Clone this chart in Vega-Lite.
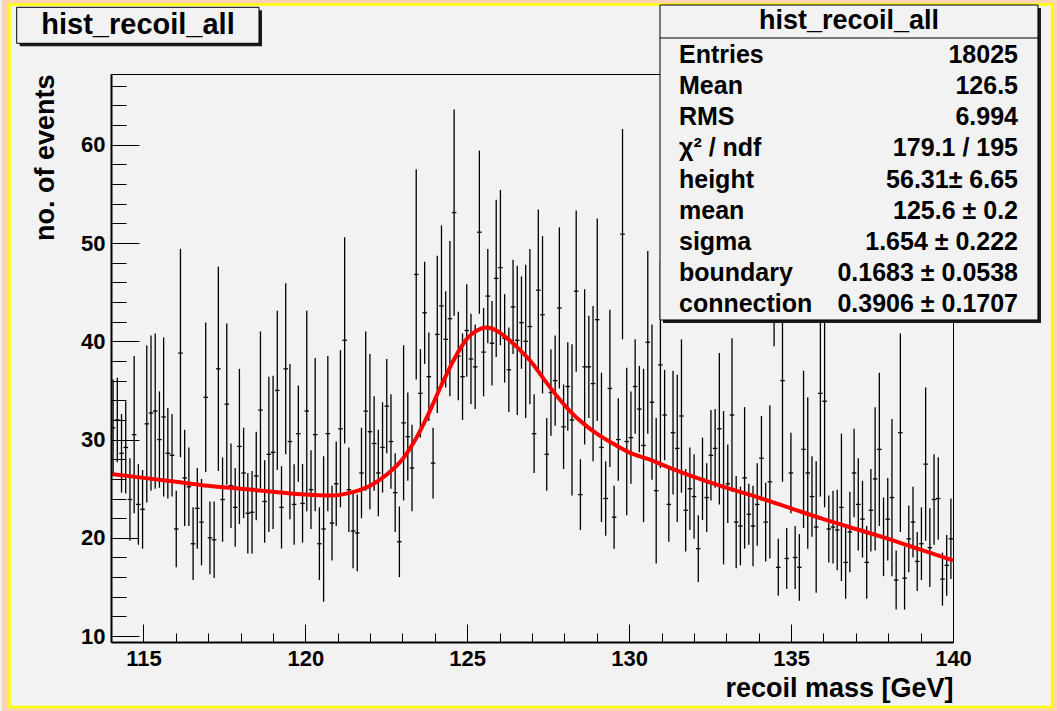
{
  "$schema": "https://vega.github.io/schema/vega-lite/v6.json",
  "width": 842,
  "height": 568,
  "autosize": {"type": "none"},
  "padding": {"left": 111, "top": 74, "right": 104, "bottom": 69},
  "background": "#f2f2f2",
  "config": {
    "view": {"stroke": "#000", "strokeWidth": 1},
    "font": "Liberation Sans"
  },
  "datasets": {
    "bins": [
      {"m":114.065,"n":31.2,"e":4.9},{"m":114.195,"n":32.0,"e":4.3},{"m":114.325,"n":28.6,"e":4.0},{"m":114.455,"n":29.2,"e":4.7},{"m":114.585,"n":23.9,"e":4.2},
      {"m":114.715,"n":30.5,"e":8.0},{"m":114.845,"n":23.4,"e":4.1},{"m":114.975,"n":22.9,"e":4.0},{"m":115.105,"n":31.6,"e":8.0},{"m":115.235,"n":32.7,"e":7.9},
      {"m":115.365,"n":32.9,"e":7.9},{"m":115.495,"n":30.0,"e":4.9},{"m":115.625,"n":32.3,"e":8.1},{"m":115.755,"n":28.6,"e":4.6},{"m":115.885,"n":28.4,"e":4.2},
      {"m":116.015,"n":20.9,"e":3.9},{"m":116.145,"n":38.8,"e":10.6},{"m":116.275,"n":26.1,"e":4.9},{"m":116.405,"n":25.2,"e":4.0},{"m":116.535,"n":19.4,"e":3.7},
      {"m":116.665,"n":23.0,"e":4.1},{"m":116.795,"n":21.6,"e":4.4},{"m":116.925,"n":34.3,"e":7.6},{"m":117.055,"n":20.0,"e":3.7},{"m":117.185,"n":19.8,"e":3.9},
      {"m":117.315,"n":37.2,"e":10.4},{"m":117.445,"n":23.9,"e":4.3},{"m":117.575,"n":33.6,"e":8.2},{"m":117.705,"n":25.3,"e":4.3},{"m":117.835,"n":23.1,"e":4.0},
      {"m":117.965,"n":29.3,"e":7.9},{"m":118.095,"n":26.6,"e":4.6},{"m":118.225,"n":22.5,"e":4.1},{"m":118.355,"n":22.6,"e":4.2},{"m":118.485,"n":26.3,"e":4.5},
      {"m":118.615,"n":33.0,"e":8.0},{"m":118.745,"n":23.7,"e":4.2},{"m":118.875,"n":28.5,"e":7.9},{"m":119.005,"n":28.7,"e":7.8},{"m":119.135,"n":35.0,"e":8.1},
      {"m":119.265,"n":23.1,"e":4.2},{"m":119.395,"n":37.2,"e":8.7},{"m":119.525,"n":29.8,"e":7.9},{"m":119.655,"n":23.4,"e":4.1},{"m":119.785,"n":30.6,"e":4.9},
      {"m":119.915,"n":23.5,"e":4.0},{"m":120.045,"n":32.9,"e":10.2},{"m":120.175,"n":24.9,"e":4.0},{"m":120.305,"n":30.5,"e":7.8},{"m":120.435,"n":19.4,"e":3.7},
      {"m":120.565,"n":20.9,"e":7.4},{"m":120.695,"n":30.6,"e":7.9},{"m":120.825,"n":21.5,"e":3.8},{"m":120.955,"n":25.5,"e":4.3},{"m":121.085,"n":31.1,"e":8.0},
      {"m":121.215,"n":40.1,"e":10.5},{"m":121.345,"n":24.9,"e":4.3},{"m":121.475,"n":20.7,"e":3.8},{"m":121.605,"n":20.5,"e":3.9},{"m":121.735,"n":26.6,"e":4.6},
      {"m":121.865,"n":32.9,"e":8.1},{"m":121.995,"n":30.8,"e":7.9},{"m":122.125,"n":29.6,"e":4.8},{"m":122.255,"n":26.6,"e":4.4},{"m":122.385,"n":29.2,"e":4.6},
      {"m":122.515,"n":33.4,"e":4.8},{"m":122.645,"n":29.8,"e":4.8},{"m":122.775,"n":24.6,"e":4.0},{"m":122.905,"n":19.6,"e":3.6},{"m":123.035,"n":31.7,"e":7.9},
      {"m":123.165,"n":30.3,"e":4.5},{"m":123.295,"n":27.1,"e":4.4},{"m":123.425,"n":46.8,"e":10.7},{"m":123.555,"n":34.7,"e":4.5},{"m":123.685,"n":42.9,"e":5.2},
      {"m":123.815,"n":36.4,"e":4.5},{"m":123.945,"n":27.6,"e":3.6},{"m":124.075,"n":40.7,"e":8.0},{"m":124.205,"n":43.6,"e":8.2},{"m":124.335,"n":40.2,"e":4.9},
      {"m":124.465,"n":42.3,"e":7.9},{"m":124.595,"n":53.1,"e":10.5},{"m":124.725,"n":38.5,"e":4.5},{"m":124.855,"n":36.4,"e":4.4},{"m":124.985,"n":41.1,"e":4.7},
      {"m":125.115,"n":38.2,"e":4.6},{"m":125.245,"n":37.4,"e":4.3},{"m":125.375,"n":51.1,"e":8.3},{"m":125.505,"n":38.9,"e":4.5},{"m":125.635,"n":44.6,"e":4.8},
      {"m":125.765,"n":39.8,"e":4.3},{"m":125.895,"n":46.4,"e":8.0},{"m":126.025,"n":47.5,"e":7.9},{"m":126.155,"n":40.3,"e":4.5},{"m":126.285,"n":37.1,"e":4.3},
      {"m":126.415,"n":43.5,"e":4.8},{"m":126.545,"n":40.1,"e":7.6},{"m":126.675,"n":41.9,"e":4.7},{"m":126.805,"n":40.0,"e":7.8},{"m":126.935,"n":41.5,"e":7.9},
      {"m":127.065,"n":30.6,"e":4.0},{"m":127.195,"n":45.2,"e":8.2},{"m":127.325,"n":42.7,"e":8.0},{"m":127.455,"n":28.5,"e":3.7},{"m":127.585,"n":34.8,"e":4.4},
      {"m":127.715,"n":36.0,"e":4.6},{"m":127.845,"n":43.4,"e":8.2},{"m":127.975,"n":31.3,"e":4.3},{"m":128.105,"n":35.4,"e":4.5},{"m":128.235,"n":32.0,"e":7.7},
      {"m":128.365,"n":45.1,"e":8.2},{"m":128.495,"n":24.4,"e":3.6},{"m":128.625,"n":37.4,"e":7.9},{"m":128.755,"n":37.4,"e":5.2},{"m":128.885,"n":35.7,"e":7.9},
      {"m":129.015,"n":42.2,"e":10.3},{"m":129.145,"n":29.2,"e":7.6},{"m":129.275,"n":24.0,"e":3.8},{"m":129.405,"n":35.2,"e":8.0},{"m":129.535,"n":22.1,"e":3.2},
      {"m":129.665,"n":30.0,"e":4.2},{"m":129.795,"n":50.9,"e":10.7},{"m":129.925,"n":29.8,"e":7.5},{"m":130.055,"n":30.2,"e":4.7},{"m":130.185,"n":35.4,"e":4.8},
      {"m":130.315,"n":33.1,"e":4.4},{"m":130.445,"n":29.4,"e":7.8},{"m":130.575,"n":39.9,"e":9.3},{"m":130.705,"n":33.8,"e":7.9},{"m":130.835,"n":24.8,"e":7.4},
      {"m":130.965,"n":37.6,"e":10.5},{"m":131.095,"n":32.5,"e":4.6},{"m":131.225,"n":23.4,"e":3.8},{"m":131.355,"n":30.7,"e":6.3},{"m":131.485,"n":29.1,"e":7.5},
      {"m":131.615,"n":32.4,"e":7.8},{"m":131.745,"n":22.8,"e":4.2},{"m":131.875,"n":25.0,"e":4.2},{"m":132.005,"n":24.2,"e":4.3},{"m":132.135,"n":18.9,"e":3.4},
      {"m":132.265,"n":26.0,"e":4.2},{"m":132.395,"n":24.1,"e":3.5},{"m":132.525,"n":28.4,"e":4.6},{"m":132.655,"n":29.1,"e":4.0},{"m":132.785,"n":31.1,"e":7.7},
      {"m":132.915,"n":25.1,"e":7.8},{"m":133.045,"n":25.5,"e":4.0},{"m":133.175,"n":32.5,"e":7.8},{"m":133.305,"n":21.6,"e":4.7},{"m":133.435,"n":21.2,"e":4.0},
      {"m":133.565,"n":26.1,"e":7.2},{"m":133.695,"n":22.4,"e":3.1},{"m":133.825,"n":21.2,"e":4.1},{"m":133.955,"n":23.4,"e":4.2},{"m":134.085,"n":28.1,"e":4.3},
      {"m":134.215,"n":21.6,"e":4.0},{"m":134.345,"n":25.7,"e":7.8},{"m":134.475,"n":50.0,"e":10.5},{"m":134.605,"n":17.0,"e":2.9},{"m":134.735,"n":36.0,"e":10.3},
      {"m":134.865,"n":17.9,"e":3.1},{"m":134.995,"n":26.6,"e":4.1},{"m":135.125,"n":18.0,"e":3.2},{"m":135.255,"n":17.0,"e":3.4},{"m":135.385,"n":29.0,"e":8.0},
      {"m":135.515,"n":26.6,"e":7.7},{"m":135.645,"n":24.2,"e":4.1},{"m":135.775,"n":21.1,"e":6.7},{"m":135.905,"n":34.7,"e":10.5},{"m":136.035,"n":33.9,"e":10.8},
      {"m":136.165,"n":20.9,"e":3.4},{"m":136.295,"n":21.1,"e":3.7},{"m":136.425,"n":20.8,"e":4.1},{"m":136.555,"n":23.1,"e":7.5},{"m":136.685,"n":17.5,"e":3.7},
      {"m":136.815,"n":20.6,"e":4.1},{"m":136.945,"n":26.6,"e":4.5},{"m":137.075,"n":23.4,"e":4.7},{"m":137.205,"n":21.9,"e":3.9},{"m":137.335,"n":17.5,"e":3.7},
      {"m":137.465,"n":22.8,"e":4.2},{"m":137.595,"n":26.0,"e":7.3},{"m":137.725,"n":29.0,"e":7.8},{"m":137.855,"n":20.1,"e":4.0},{"m":137.985,"n":21.9,"e":4.2},
      {"m":138.115,"n":24.1,"e":8.0},{"m":138.245,"n":15.7,"e":3.0},{"m":138.375,"n":30.7,"e":10.1},{"m":138.505,"n":15.9,"e":3.2},{"m":138.635,"n":19.9,"e":3.4},
      {"m":138.765,"n":21.6,"e":3.6},{"m":138.895,"n":17.6,"e":3.0},{"m":139.025,"n":19.4,"e":3.7},{"m":139.155,"n":27.5,"e":7.8},{"m":139.285,"n":19.0,"e":4.0},
      {"m":139.415,"n":23.9,"e":4.6},{"m":139.545,"n":24.0,"e":4.2},{"m":139.675,"n":15.8,"e":2.7},{"m":139.805,"n":17.2,"e":3.1},{"m":139.935,"n":19.9,"e":4.1}
    ],
    "fit": [
      {"m":114.0,"f":26.5},{"m":115.0,"f":26.1},{"m":116.0,"f":25.7},{"m":117.0,"f":25.3},{"m":118.0,"f":25.0},
      {"m":119.0,"f":24.7},{"m":120.0,"f":24.4},{"m":120.8,"f":24.3},{"m":121.4,"f":24.6},{"m":122.0,"f":25.3},
      {"m":122.5,"f":26.4},{"m":123.0,"f":28.0},{"m":123.4,"f":30.0},{"m":123.8,"f":32.6},{"m":124.2,"f":35.5},
      {"m":124.6,"f":38.2},{"m":125.0,"f":40.3},{"m":125.3,"f":41.1},{"m":125.6,"f":41.4},{"m":125.9,"f":41.1},
      {"m":126.2,"f":40.4},{"m":126.6,"f":39.2},{"m":127.0,"f":37.8},{"m":127.4,"f":36.0},{"m":127.8,"f":34.3},
      {"m":128.2,"f":32.8},{"m":128.6,"f":31.6},{"m":129.0,"f":30.6},{"m":129.5,"f":29.6},{"m":130.0,"f":28.7},
      {"m":130.6,"f":28.0},{"m":131.2,"f":27.2},{"m":132.0,"f":26.2},{"m":133.0,"f":25.1},{"m":134.0,"f":24.1},
      {"m":135.0,"f":23.0},{"m":136.0,"f":21.9},{"m":137.0,"f":20.9},{"m":138.0,"f":19.9},{"m":139.0,"f":18.8},
      {"m":140.0,"f":17.7}
    ],
    "stats": [
      {"i":0,"k":"Entries","v":"18025"},
      {"i":1,"k":"Mean","v":"126.5"},
      {"i":2,"k":"RMS","v":"6.994"},
      {"i":3,"k":"χ² / ndf","v":"179.1 / 195"},
      {"i":4,"k":"height","v":"56.31± 6.65"},
      {"i":5,"k":"mean","v":"125.6 ± 0.2"},
      {"i":6,"k":"sigma","v":"1.654 ± 0.222"},
      {"i":7,"k":"boundary","v":"0.1683 ± 0.0538"},
      {"i":8,"k":"connection","v":"0.3906 ± 0.1707"}
    ]
  },
  "layer": [
    {
      "layer": [
        {
          "data": {"values": [{}]},
          "mark": {"type": "rect", "fill": null, "stroke": "#fcd4b4", "strokeWidth": 8},
          "encoding": {
            "x": {"datum": 110.75, "type": "quantitative", "axis": null},
            "x2": {"datum": 143.21},
            "y": {"datum": 74.73, "type": "quantitative", "axis": null},
            "y2": {"datum": 2.38}
          }
        },
        {
          "data": {"values": [{}]},
          "mark": {"type": "rect", "fill": null, "stroke": "#ffff00", "strokeWidth": 2.5},
          "encoding": {
            "x": {"datum": 110.866, "type": "quantitative", "axis": null},
            "x2": {"datum": 143.057},
            "y": {"datum": 74.27, "type": "quantitative", "axis": null},
            "y2": {"datum": 2.79}
          }
        },
        {
          "data": {"name": "bins"},
          "mark": {"type": "errorbar", "ticks": false, "rule": {"color": "#000", "strokeWidth": 1.3}},
          "encoding": {
            "x": {
              "field": "m", "type": "quantitative",
              "scale": {"domain": [114, 140], "nice": false, "zero": false},
              "axis": {
                "orient": "bottom",
                "values": [115, 120, 125, 130, 135, 140],
                "ticks": false,
                "grid": true, "gridColor": "#000", "gridOpacity": 1, "gridWidth": 1, "gridDash": [0, 550, 18, 3000],
                "domainColor": "#000", "domainWidth": 2,
                "labelFont": "Liberation Sans", "labelFontWeight": "bold", "labelFontSize": 22, "labelColor": "#000",
                "labelPadding": 6, "labelFlush": false, "labelOverlap": false,
                "title": "recoil mass [GeV]",
                "titleFont": "Liberation Sans", "titleFontWeight": "bold", "titleFontSize": 27, "titleColor": "#000",
                "titleAnchor": "end", "titlePadding": 6,
                "zindex": 1
              }
            },
            "y": {
              "field": "n", "type": "quantitative",
              "scale": {"domain": [9.4, 67.2], "nice": false, "zero": false},
              "axis": {
                "orient": "left",
                "values": [10, 20, 30, 40, 50, 60],
                "ticks": false,
                "grid": true, "gridColor": "#000", "gridOpacity": 1, "gridWidth": 1, "gridDash": [28, 3000],
                "domainColor": "#000", "domainWidth": 2,
                "labelFont": "Liberation Sans", "labelFontWeight": "bold", "labelFontSize": 22, "labelColor": "#000",
                "labelPadding": 6, "labelFlush": false, "labelOverlap": false,
                "title": "no. of events",
                "titleFont": "Liberation Sans", "titleFontWeight": "bold", "titleFontSize": 27, "titleColor": "#000",
                "titleAnchor": "end", "titlePadding": 21,
                "zindex": 1
              }
            },
            "yError": {"field": "e"}
          }
        },
        {
          "data": {"name": "bins"},
          "mark": {"type": "tick", "orient": "horizontal", "size": 4.5, "thickness": 1.3, "color": "#000", "opacity": 1},
          "encoding": {
            "x": {
              "field": "m", "type": "quantitative",
              "axis": {
                "orient": "top",
                "values": [115,116,117,118,119,120,121,122,123,124,125,126,127,128,129,130,131,132,133,134,135,136,137,138,139,140],
                "labels": false, "ticks": false, "domain": false, "title": null,
                "grid": true, "gridColor": "#000", "gridOpacity": 1, "gridWidth": 1, "gridDash": [9, 3000],
                "zindex": 1
              }
            },
            "y": {
              "field": "n", "type": "quantitative",
              "axis": {
                "orient": "right",
                "values": [10,12,14,16,18,20,22,24,26,28,30,32,34,36,38,40,42,44,46,48,50,52,54,56,58,60,62,64,66],
                "labels": false, "ticks": false, "domain": false, "title": null,
                "grid": true, "gridColor": "#000", "gridOpacity": 1, "gridWidth": 1, "gridDash": [0, 827, 15, 3000],
                "zindex": 1
              }
            }
          }
        },
        {
          "data": {"name": "fit"},
          "mark": {"type": "line", "color": "#ff0000", "strokeWidth": 4, "interpolate": "monotone"},
          "encoding": {
            "x": {"field": "m", "type": "quantitative", "axis": null},
            "y": {"field": "f", "type": "quantitative", "axis": null}
          }
        },
        {
          "data": {"values": [{}]},
          "mark": {"type": "rect", "fill": "#1a1a1a"},
          "encoding": {
            "x": {"datum": 111.181, "type": "quantitative", "axis": null},
            "x2": {"datum": 118.663},
            "y": {"datum": 73.682, "type": "quantitative", "axis": null},
            "y2": {"datum": 70.018}
          }
        },
        {
          "data": {"values": [{}]},
          "mark": {"type": "rect", "fill": "#f2f2f2", "stroke": "#000", "strokeWidth": 1},
          "encoding": {
            "x": {"datum": 111.088, "type": "quantitative", "axis": null},
            "x2": {"datum": 118.570},
            "y": {"datum": 73.987, "type": "quantitative", "axis": null},
            "y2": {"datum": 70.323}
          }
        },
        {
          "data": {"values": [{"t": "hist_recoil_all"}]},
          "mark": {"type": "text", "align": "center", "baseline": "middle", "font": "Liberation Sans", "fontWeight": "bold", "fontSize": 29, "color": "#000"},
          "encoding": {
            "x": {"datum": 114.834, "type": "quantitative", "axis": null},
            "y": {"datum": 72.19, "type": "quantitative", "axis": null},
            "text": {"field": "t"}
          }
        },
        {
          "data": {"values": [{}]},
          "mark": {"type": "rect", "fill": "#1a1a1a"},
          "encoding": {
            "x": {"datum": 131.045, "type": "quantitative", "axis": null},
            "x2": {"datum": 142.717},
            "y": {"datum": 73.915, "type": "quantitative", "axis": null},
            "y2": {"datum": 41.865}
          }
        },
        {
          "data": {"values": [{}]},
          "mark": {"type": "rect", "fill": "#f2f2f2", "stroke": "#000", "strokeWidth": 1},
          "encoding": {
            "x": {"datum": 130.952, "type": "quantitative", "axis": null},
            "x2": {"datum": 142.624},
            "y": {"datum": 74.22, "type": "quantitative", "axis": null},
            "y2": {"datum": 42.17}
          }
        },
        {
          "data": {"values": [{}]},
          "mark": {"type": "rule", "color": "#000", "strokeWidth": 1},
          "encoding": {
            "x": {"datum": 130.952, "type": "quantitative", "axis": null},
            "x2": {"datum": 142.624},
            "y": {"datum": 70.863, "type": "quantitative", "axis": null}
          }
        },
        {
          "data": {"values": [{"t": "hist_recoil_all"}]},
          "mark": {"type": "text", "align": "center", "baseline": "middle", "font": "Liberation Sans", "fontWeight": "bold", "fontSize": 27, "color": "#000"},
          "encoding": {
            "x": {"datum": 136.789, "type": "quantitative", "axis": null},
            "y": {"datum": 72.644, "type": "quantitative", "axis": null},
            "text": {"field": "t"}
          }
        }
      ]
    },
    {
      "data": {"name": "stats"},
      "encoding": {
        "y": {"field": "i", "type": "quantitative", "scale": {"domain": [0, 8], "range": [-19, 230], "nice": false, "zero": false}, "axis": null}
      },
      "layer": [
        {
          "mark": {"type": "text", "align": "left", "baseline": "middle", "font": "Liberation Sans", "fontWeight": "bold", "fontSize": 25, "color": "#000"},
          "encoding": {
            "x": {"datum": 131.539, "type": "quantitative", "axis": null},
            "text": {"field": "k"}
          }
        },
        {
          "mark": {"type": "text", "align": "right", "baseline": "middle", "font": "Liberation Sans", "fontWeight": "bold", "fontSize": 25, "color": "#000"},
          "encoding": {
            "x": {"datum": 142.007, "type": "quantitative", "axis": null},
            "text": {"field": "v"}
          }
        }
      ]
    }
  ],
  "resolve": {"scale": {"y": "independent"}}
}
